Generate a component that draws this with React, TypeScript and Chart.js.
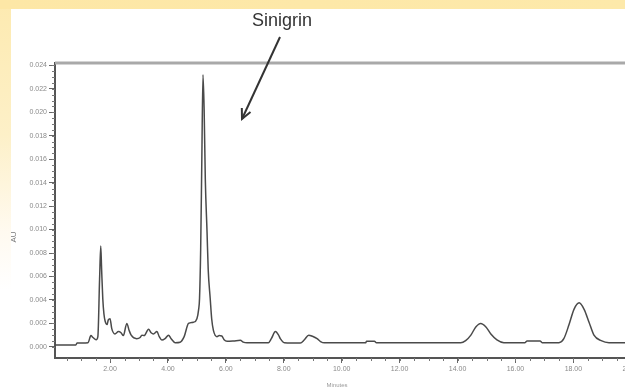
import React, { useEffect, useRef } from "react";
import { Chart, registerables } from "chart.js";

Chart.register(...registerables);

// Retention time (minutes) and absorbance (AU)
const times: number[] = [
  0.1, 0.82, 0.86, 1.24, 1.34, 1.41, 1.52, 1.58, 1.64, 1.68, 1.71, 1.75, 1.79, 1.83, 1.9, 1.94, 2.0,
  2.06, 2.17, 2.29, 2.38, 2.46, 2.58, 2.66, 2.73, 2.92, 3.04, 3.1, 3.18, 3.33, 3.42, 3.5, 3.62,
  3.7, 3.79, 3.9, 4.02, 4.11, 4.25, 4.42, 4.56, 4.71, 4.88, 5.0, 5.06, 5.09, 5.13, 5.17, 5.21,
  5.25, 5.29, 5.35, 5.39, 5.46, 5.51, 5.57, 5.69, 5.77, 5.86, 5.94, 6.04, 6.26, 6.5, 6.6, 6.73,
  7.47, 7.57, 7.71, 7.82, 7.88, 8.02, 8.57, 8.71, 8.86, 8.99, 9.15, 9.27, 9.4, 10.82, 10.86,
  11.13, 11.2, 14.11, 14.28, 14.46, 14.63, 14.8, 14.98, 15.15, 15.36, 15.6, 16.33, 16.4, 16.85,
  16.92, 17.5, 17.67, 17.85, 18.02, 18.2, 18.37, 18.54, 18.71, 18.96, 19.23, 20.3,
];
const absorbance: number[] = [
  0.00015, 0.00015, 0.00032, 0.00036, 0.00096, 0.0008, 0.0006, 0.00087, 0.0058, 0.0086, 0.0066,
  0.0041, 0.0028, 0.0022, 0.0019, 0.0023, 0.0024, 0.00155, 0.0011, 0.0013, 0.0012, 0.00096, 0.002,
  0.0014, 0.001, 0.0007, 0.0008, 0.001, 0.00096, 0.0015, 0.0012, 0.0011, 0.0013, 0.00087, 0.00058,
  0.0007, 0.001, 0.0007, 0.00036, 0.0004, 0.00087, 0.002, 0.0021, 0.0024, 0.0032, 0.0041, 0.0083,
  0.016, 0.0232, 0.0202, 0.0143, 0.0098, 0.0066, 0.0041, 0.0024, 0.0014, 0.00087, 0.00096,
  0.00093, 0.0006, 0.00047, 0.0005, 0.00056, 0.0004, 0.00034, 0.00036, 0.0007, 0.0013, 0.001,
  0.0007, 0.00036, 0.00032, 0.0006, 0.001, 0.0009, 0.0007, 0.00045, 0.00034, 0.00034, 0.00047,
  0.00047, 0.00034, 0.00034, 0.00053, 0.001, 0.0017, 0.002, 0.0017, 0.0011, 0.0006, 0.00036,
  0.00036, 0.0005, 0.0005, 0.00036, 0.00036, 0.0007, 0.0019, 0.0032, 0.00375, 0.0032, 0.0021,
  0.001, 0.00053, 0.00036, 0.00036,
];

const xTicks: number[] = [2, 4, 6, 8, 10, 12, 14, 16, 18, 20];
const yTicks: number[] = [0, 0.002, 0.004, 0.006, 0.008, 0.01, 0.012, 0.014, 0.016, 0.018, 0.02, 0.022, 0.024];
const xMinorStep = 0.5;
const yMinorStep = 0.0005;

const peakLabel = "Sinigrin";
const yTitle = "AU";
const xTitle = "Minutes";

const decorPlugin = {
  id: "decor",
  afterDraw(chart: any) {
    const { ctx, chartArea, scales } = chart;
    const xs = scales.x;
    const ys = scales.y;
    ctx.save();
    // top frame line
    ctx.strokeStyle = "#a9a9a9";
    ctx.lineWidth = 3;
    ctx.beginPath();
    ctx.moveTo(chartArea.left, chartArea.top);
    ctx.lineTo(chartArea.right + 20, chartArea.top);
    ctx.stroke();

    // minor ticks
    ctx.strokeStyle = "#777";
    ctx.lineWidth = 1;
    ctx.beginPath();
    for (let v = xMinorStep; v <= xs.max; v += xMinorStep) {
      const px = Math.round(xs.getPixelForValue(v)) + 0.5;
      ctx.moveTo(px, chartArea.bottom);
      ctx.lineTo(px, chartArea.bottom + 3);
    }
    for (let v = 0; v <= ys.max; v += yMinorStep) {
      const py = Math.round(ys.getPixelForValue(v)) + 0.5;
      ctx.moveTo(chartArea.left, py);
      ctx.lineTo(chartArea.left - 3, py);
    }
    ctx.stroke();

    // axis titles
    ctx.fillStyle = "#777";
    ctx.font = "8px 'Liberation Sans', Arial, sans-serif";
    ctx.textAlign = "center";
    ctx.textBaseline = "middle";
    ctx.save();
    ctx.translate(14, 237);
    ctx.rotate(-Math.PI / 2);
    ctx.fillText(yTitle, 0, 0);
    ctx.restore();
    ctx.font = "6px 'Liberation Sans', Arial, sans-serif";
    ctx.fillStyle = "#999";
    ctx.fillText(xTitle, 337, 385);

    // annotation
    ctx.fillStyle = "#333";
    ctx.font = "18px 'Liberation Sans Narrow', 'Liberation Sans', Arial, sans-serif";
    ctx.textAlign = "center";
    ctx.textBaseline = "alphabetic";
    ctx.fillText(peakLabel, 282, 26);

    const x1 = 280, y1 = 37, x2 = 242, y2 = 119;
    ctx.strokeStyle = "#333";
    ctx.lineWidth = 2;
    ctx.beginPath();
    ctx.moveTo(x1, y1);
    ctx.lineTo(x2, y2);
    ctx.stroke();
    const ang = Math.atan2(y2 - y1, x2 - x1);
    const hl = 11;
    ctx.beginPath();
    ctx.moveTo(x2 - hl * Math.cos(ang - 0.45), y2 - hl * Math.sin(ang - 0.45));
    ctx.lineTo(x2, y2);
    ctx.lineTo(x2 - hl * Math.cos(ang + 0.45), y2 - hl * Math.sin(ang + 0.45));
    ctx.stroke();
    ctx.restore();
  },
};

export default function App() {
  const ref = useRef<HTMLCanvasElement | null>(null);
  useEffect(() => {
    if (!ref.current) return;
    const tickFont = { family: "'Liberation Sans', Arial, sans-serif", size: 7 };
    const chart = new Chart(ref.current, {
      type: "line",
      data: {
        datasets: [
          {
            data: times.map((t, i) => ({ x: t, y: absorbance[i] })),
            borderColor: "#4a4a4a",
            borderWidth: 1.5,
            pointRadius: 0,
            tension: 0.3,
            cubicInterpolationMode: "monotone",
            fill: false,
          },
        ],
      },
      options: {
        animation: false,
        responsive: false,
        devicePixelRatio: 1,
        layout: { padding: { top: 63, right: 20, left: 0, bottom: 0 } },
        plugins: { legend: { display: false }, tooltip: { enabled: false } },
        scales: {
          x: {
            type: "linear",
            min: 0.1,
            max: 20.3,
            afterBuildTicks: (s: any) => {
              s.ticks = xTicks.map((v) => ({ value: v }));
            },
            afterFit: (s: any) => {
              s.height = 29;
            },
            ticks: {
              font: tickFont,
              color: "#8a8a8a",
              padding: 2,
              maxRotation: 0,
              autoSkip: false,
              callback: (v: any) => Number(v).toFixed(2),
            },
            grid: { drawOnChartArea: false, drawTicks: true, tickLength: 5, color: "#666" },
            border: { display: true, color: "#555", width: 2 },
          },
          y: {
            min: -0.00095,
            max: 0.0242,
            afterBuildTicks: (s: any) => {
              s.ticks = yTicks.map((v) => ({ value: v }));
            },
            afterFit: (s: any) => {
              s.width = 55;
            },
            ticks: {
              font: tickFont,
              color: "#8a8a8a",
              padding: 2,
              autoSkip: false,
              callback: (v: any) => Number(v).toFixed(3),
            },
            grid: { drawOnChartArea: false, drawTicks: true, tickLength: 6, color: "#666" },
            border: { display: true, color: "#555", width: 2 },
          },
        },
      },
      plugins: [decorPlugin],
    } as any);
    return () => chart.destroy();
  }, []);

  return (
    <div
      style={{
        position: "fixed",
        left: 0,
        top: 0,
        width: 625,
        height: 387,
        overflow: "hidden",
        background: "#ffffff",
      }}
    >
      <div
        style={{
          position: "absolute",
          left: 0,
          top: 0,
          width: 11,
          height: 387,
          background: "linear-gradient(to bottom, #fdeab0 0%, #fdf0c8 35%, #fffaf0 60%, #ffffff 75%)",
        }}
      />
      <div
        style={{
          position: "absolute",
          left: 0,
          top: 0,
          width: 625,
          height: 9,
          background: "linear-gradient(to right, #fde7a6, #fde9aa)",
        }}
      />
      <canvas ref={ref} width={660} height={387} style={{ position: "absolute", left: 0, top: 0 }} />
    </div>
  );
}
